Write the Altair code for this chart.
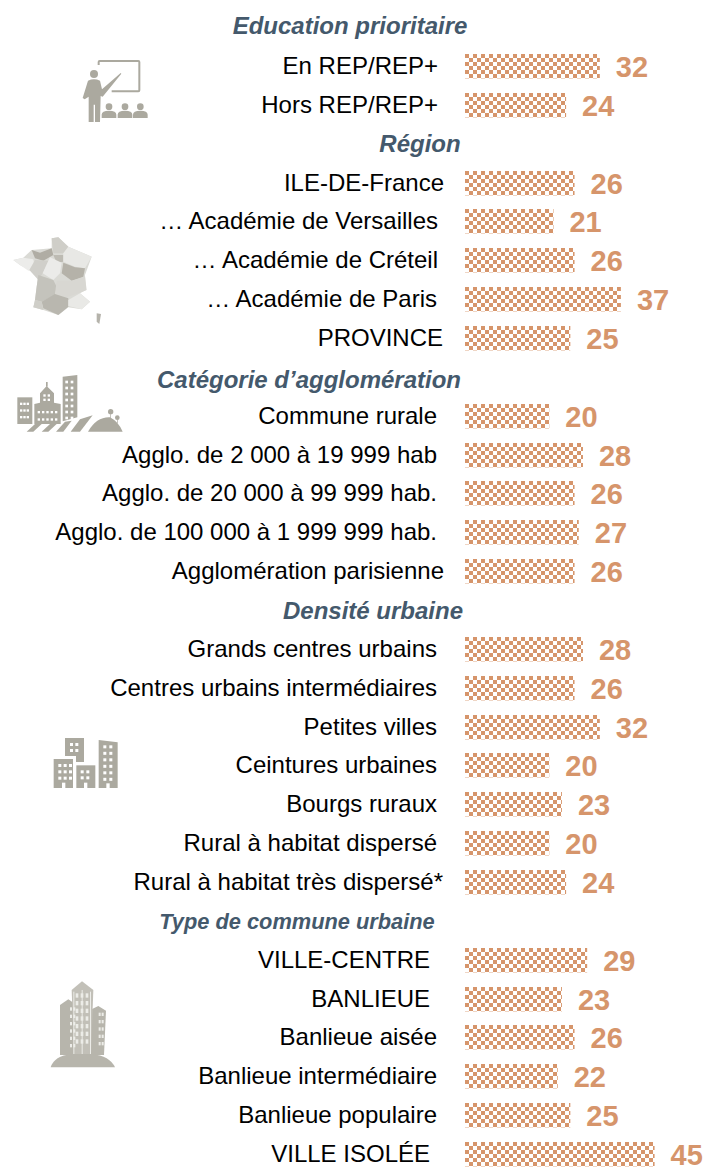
import urllib.parse
import altair as alt
import pandas as pd

# ---- chart values -------------------------------------------------------
ROW_LABELS = [
    "Education prioritaire",
    "En REP/REP+", "Hors REP/REP+",
    "Région",
    "ILE-DE-France", "… Académie de Versailles", "… Académie de Créteil",
    "… Académie de Paris", "PROVINCE",
    "Catégorie d’agglomération",
    "Commune rurale", "Agglo. de 2 000 à 19 999 hab", "Agglo. de 20 000 à 99 999 hab.",
    "Agglo. de 100 000 à 1 999 999 hab.", "Agglomération parisienne",
    "Densité urbaine",
    "Grands centres urbains", "Centres urbains intermédiaires", "Petites villes",
    "Ceintures urbaines", "Bourgs ruraux", "Rural à habitat dispersé",
    "Rural à habitat très dispersé*",
    "Type de commune urbaine",
    "VILLE-CENTRE", "BANLIEUE", "Banlieue aisée", "Banlieue intermédiaire",
    "Banlieue populaire", "VILLE ISOLÉE",
]
ROW_VALUES = [
    None, 32, 24,
    None, 26, 21, 26, 37, 25,
    None, 20, 28, 26, 27, 26,
    None, 28, 26, 32, 20, 23, 20, 24,
    None, 29, 23, 26, 22, 25, 45,
]

# ---- layout (page pixels) ----------------------------------------------
PAGE = 8
W, H = 703, 1160
PX_PER_UNIT = 4.213
BAR_X0 = 465 - PAGE
STEP = 38.857
LABEL_ENDS = [
    350, 438, 438,
    420, 444, 438, 438, 437, 443,
    309, 437, 437, 437, 437, 444,
    373, 437, 437, 437, 437, 437, 437, 443,
    297, 430, 430, 437, 437, 437, 430,
]
HEAD_SHIFT = {0: -1, 3: 0, 9: 3, 15: 1, 23: 0}
HEAD_SIZE = {23: 21.8}

df = pd.DataFrame({"label": ROW_LABELS, "value": ROW_VALUES})
df["zero"] = 0
df["top"] = [round(54 - PAGE + STEP * (i - 1)) for i in range(len(df))]
df["endv"] = [(e - PAGE - BAR_X0) / PX_PER_UNIT for e in LABEL_ENDS]
df["base"] = df["top"] + 20
df["vbase"] = df["top"] + 23
df["hbase"] = [df["top"][i] + 19.5 + HEAD_SHIFT.get(i, 0) for i in range(len(df))]
df["fs"] = [HEAD_SIZE.get(i, 24) for i in range(len(df))]
bars_df = df[df["value"].notna()]
head_df = df[df["value"].isna()]

x_scale = alt.Scale(domain=[-BAR_X0 / PX_PER_UNIT, (W - BAR_X0) / PX_PER_UNIT], range=[0, W])
y_scale = alt.Scale(domain=[0, H], range=[0, H])
X = lambda f: alt.X(f, scale=x_scale, axis=None)
Y = lambda f: alt.Y(f, scale=y_scale, axis=None)

CELL = "#D6956B"
layers = []
for k in range(6):
    layers.append(
        alt.Chart(bars_df)
        .transform_calculate(rowy=f"datum.top + {2 + 4 * k}")
        .mark_rule(color=CELL, strokeWidth=4, strokeDash=[4, 4], strokeDashOffset=4 * (k % 2))
        .encode(x=X("zero:Q"), x2="value:Q", y=Y("rowy:Q"))
    )
layers.append(
    alt.Chart(bars_df)
    .transform_calculate(rowy="datum.top + 24.5")
    .mark_rule(color=CELL, strokeWidth=1, strokeDash=[4, 4], opacity=0.4)
    .encode(x=X("zero:Q"), x2="value:Q", y=Y("rowy:Q"))
)
layers.append(
    alt.Chart(bars_df)
    .mark_text(align="right", baseline="alphabetic", font="Liberation Sans", fontSize=24, color="#000000")
    .encode(x=X("endv:Q"), y=Y("base:Q"), text="label:N")
)
layers.append(
    alt.Chart(bars_df)
    .mark_text(align="left", baseline="alphabetic", dx=16, font="Liberation Sans", fontSize=29, fontWeight="bold", color=CELL)
    .encode(x=X("value:Q"), y=Y("vbase:Q"), text=alt.Text("value:Q", format="d"))
)
layers.append(
    alt.Chart(head_df)
    .mark_text(align="center", baseline="alphabetic", font="Liberation Sans", fontWeight="bold", fontStyle="italic", color="#44596C")
    .encode(x=X("endv:Q"), y=Y("hbase:Q"), text="label:N", size=alt.Size("fs:Q", scale=None, legend=None))
)

# ---- pictograms ---------------------------------------------------------
G = "#ABA99F"


def svg_uri(w, h, inner):
    s = f'<svg xmlns="http://www.w3.org/2000/svg" width="{w}" height="{h}" viewBox="0 0 {w*3} {h*3}">{inner}</svg>'
    return "data:image/svg+xml," + urllib.parse.quote(s)


def poly(pts, fill):
    return f'<polygon points="{pts}" fill="{fill}"/>'


def rect(x, y, w, h, fill=G):
    return f'<rect x="{x}" y="{y}" width="{w}" height="{h}" fill="{fill}"/>'


def grid(x0, y0, nx, ny, dx, dy, s, fill="#ffffff", sh=None):
    return "".join(rect(x0 + i * dx, y0 + j * dy, s, sh or s, fill) for i in range(nx) for j in range(ny))


# teacher: drawn in 3x units, origin at page (80, 58)
teacher = (
    f'<path d="M56 21 V12 Q56 9 59 9 H175 Q178 9 178 12 V97 Q178 100 175 100 H95" fill="none" stroke="{G}" stroke-width="6"/>'
    f'<circle cx="42" cy="48" r="12" fill="{G}"/>'
    f'<path d="M24 68 Q42 60 60 68 L66 94 L122 45 L124 47 L68 116 L62 114 L60 192 H45 V140 H41 V192 H26 V116 L14 124 L8 120 Z" fill="{G}"/>'
    + "".join(
        f'<circle cx="{c}" cy="146" r="10" fill="{G}"/><path d="M{c-22} 180 V170 Q{c-22} 158 {c} 158 Q{c+22} 158 {c+22} 170 V180 Z" fill="{G}"/>'
        for c in (87, 135, 181)
    )
)

france = "".join(
    [
        poly("40,120 70,113 95,90 155,85 155,55 175,52 205,80 275,110 255,165 258,210 240,220 270,245 245,268 205,262 175,285 130,270 100,262 105,240 110,200 115,165 88,150 60,135", "#DADAD5"),
        poly("40,120 70,113 100,118 105,150 85,152 60,135", "#ECECEA"),
        poly("95,90 120,98 155,85 160,105 130,122 105,115", "#B0ADA4"),
        poly("155,55 175,52 205,80 190,100 160,100", "#CFCEC8"),
        poly("160,105 190,105 190,125 170,128", "#BDBBB3"),
        poly("205,80 275,110 255,145 225,140 190,125 190,100", "#E8E8E5"),
        poly("105,120 145,122 128,160 115,180 88,150", "#D0CFCA"),
        poly("150,112 185,128 180,160 160,180 128,160", "#EBEBE9"),
        poly("190,128 225,142 255,145 250,170 215,182 185,160", "#B5B2A9"),
        poly("115,165 160,180 170,200 165,225 125,245 105,240 110,200", "#C4C3BC"),
        poly("170,182 215,182 255,170 260,210 235,220 200,232 165,222", "#D8D7D2"),
        poly("125,245 165,222 205,235 205,260 175,285 130,265", "#B9B7AF"),
        poly("205,240 240,220 270,245 245,268 205,258", "#E9E9E6"),
        poly("105,240 125,245 130,270 100,262", "#CFCEC8"),
        poly("290,280 303,282 298,312 290,305", "#B5B3AB"),
    ]
)

agglo = (
    rect(52, 312, 45, 80)
    + grid(60, 328, 3, 3, 10, 20, 7)
    + poly("103,392 103,332 120,328 120,300 140,278 162,300 162,328 182,332 182,392", G)
    + rect(138, 266, 5, 14)
    + grid(113, 353, 5, 2, 13, 22, 7)
    + grid(130, 303, 2, 2, 13, 13, 7)
    + poly("188,250 232,245 232,372 188,384", G)
    + grid(196, 262, 2, 7, 16, 18, 8)
    + poly("80,415 105,392 125,392 100,415", G)
    + poly("125,415 150,392 170,392 145,415", G)
    + poly("168,415 195,385 215,382 190,415", G)
    + poly("212,415 240,378 278,366 240,415", G)
    + '<path d="M264 415 Q290 370 330 372 Q355 385 368 415 Z" fill="%s"/>' % G
    + f'<circle cx="332" cy="355" r="8" fill="{G}"/><circle cx="352" cy="373" r="7" fill="{G}"/>'
    + rect(331, 360, 2, 15)
    + rect(351, 378, 2, 12)
)

blocks = (
    poly("105,54 162,54 162,126 138,126 138,108 105,108", G)
    + grid(120, 69, 2, 2, 16, 18, 9)
    + rect(71, 117, 58, 87)
    + grid(85, 132, 3, 3, 16, 19, 9)
    + rect(96, 188, 10, 16, "#ffffff")
    + rect(139, 136, 57, 68)
    + grid(152, 151, 2, 2, 17, 18, 9)
    + rect(162, 188, 10, 16, "#ffffff")
    + poly("206,60 263,67 263,204 206,204", G)
    + grid(220, 76, 2, 6, 18, 19.5, 9)
    + rect(229, 190, 10, 14, "#ffffff")
)

W1 = "#ECECE8"
towers = (
    poly("90,135 115,118 140,135 140,285 90,285", "#B7B5AC")
    + poly("180,150 205,138 228,152 222,285 180,285", "#B7B5AC")
    + poly("125,90 156,64 190,90 183,285 132,285", "#C2C0B8")
    + rect(130, 95, 3, 190, W1)
    + rect(155, 90, 3, 195, W1)
    + rect(180, 95, 3, 190, W1)
    + grid(137, 100, 3, 7, 15, 23, 8, W1, 13)
    + grid(120, 142, 2, 6, 10, 22, 6, W1, 10)
    + grid(206, 158, 2, 5, 9, 22, 6, W1, 10)
    + '<path d="M62 322 Q72 288 125 282 L185 282 Q240 288 255 322 Z" fill="#B7B5AC"/>'
)

icons = [
    (80, 58, 72, 67, teacher),
    (0, 220, 110, 110, france),
    (0, 293.33, 130, 145, agglo),
    (30, 720, 110, 90, blocks),
    (30, 960, 110, 120, towers),
]
for ix, iy, iw, ih, inner in icons:
    layers.append(
        alt.Chart(pd.DataFrame({"k": [0]}))
        .mark_image(url=svg_uri(iw, ih, inner), width=iw, height=ih, align="left", baseline="top")
        .encode(x=alt.value(ix - PAGE), y=alt.value(iy - PAGE))
    )

chart = (
    alt.layer(*layers)
    .properties(width=W, height=H, padding=0, autosize=alt.AutoSizeParams(type="none"), background="#ffffff")
    .configure_view(stroke=None)
)
chart.save("out.html", embed_options={"renderer": "svg", "actions": False})
